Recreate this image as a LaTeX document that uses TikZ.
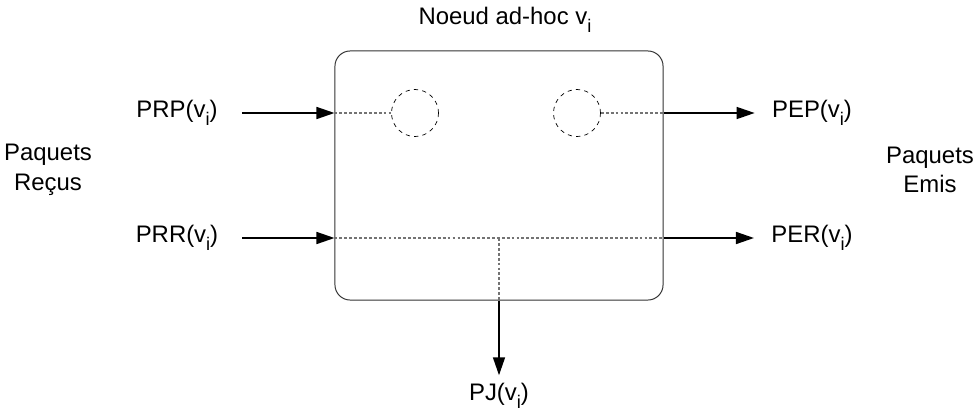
\documentclass[tikz,border=0pt]{standalone}
\usepackage{fontspec}
\setmainfont{Liberation Sans}
\usepackage{tikz}
\usetikzlibrary{calc,arrows.meta}
\newcommand{\vi}{v\raisebox{-0.6ex}{\fontsize{13}{13}\selectfont i}}

\begin{document}
\begin{tikzpicture}[x=0.025cm,y=-0.025cm,
  font=\fontsize{17}{21}\selectfont,
  lbl/.style={inner sep=0pt},
  arr/.style={line width=1.1pt,-{Triangle[length=0.45cm,width=0.3cm]}},
  dots/.style={black!55,line width=0.8pt,dash pattern=on 2pt off 1.5pt},
  ring/.style={circle,draw,dashed,line width=0.5pt,minimum size=1.175cm,inner sep=0pt}]

\useasboundingbox (0,0) rectangle (980,415);

% le noeud
\node[draw=black!80,line width=0.7pt,rounded corners=0.38cm,
  minimum width=8.2cm,minimum height=6.225cm,inner sep=0pt] (box) at (499,175.5) {};
\node[lbl] (title) at (505,20) {Noeud ad-hoc \vi};

\node[ring] (cl) at (415,113) {};
\node[ring] (cr) at (577,113) {};

% entrees
\node[lbl] (prp) at (177,113) {PRP(\vi)};
\node[lbl] (prr) at (177,238) {PRR(\vi)};
\node[lbl,align=center] (recus) at (48,170) {Paquets\\Reçus};

% sorties
\node[lbl] (pep) at (812,113) {PEP(\vi)};
\node[lbl] (per) at (812,238) {PER(\vi)};
\node[lbl,align=center] (emis) at (930,170) {Paquets\\Emis};
\node[lbl] (pj) at (499,396) {PJ(\vi)};

\draw[arr] ([xshift=0.6cm]prp.east) -- (prp -| box.west);
\draw[arr] ([xshift=0.6cm]prr.east) -- (prr -| box.west);
\draw[arr] (pep -| box.east) -- ([xshift=-0.43cm]pep.west);
\draw[arr] (per -| box.east) -- ([xshift=-0.43cm]per.west);
\draw[arr] (box.south) -- ([yshift=0.2cm]pj.north);

\draw[dots] (prp -| box.west) -- (cl.west);
\draw[dots] (cr.east) -- (pep -| box.east);
\draw[dots] (prr -| box.west) -- (per -| box.east);
\draw[dots] (box.center |- prr) -- (box.south);

\end{tikzpicture}
\end{document}
